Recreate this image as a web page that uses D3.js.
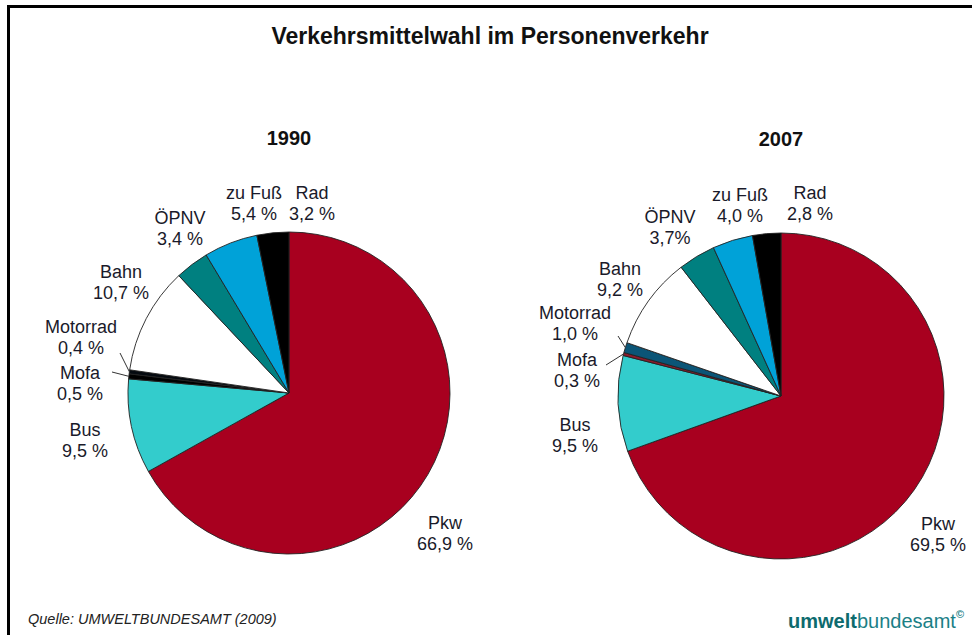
<!DOCTYPE html>
<html>
<head>
<meta charset="utf-8">
<script src="https://cdn.jsdelivr.net/npm/d3@7"></script>
<style>
  html, body { margin: 0; padding: 0; background: #fff; }
  svg { display: block; font-family: "Liberation Sans", Arial, sans-serif; }
</style>
</head>
<body>
<div class="chart"></div>
<script>
// Données
const categories = ['Pkw', 'Bus', 'Mofa', 'Motorrad', 'Bahn', 'ÖPNV', 'zu Fuß', 'Rad']
const years = ['1990', '2007']
const values1990 = [66.9, 9.5, 0.5, 0.4, 10.7, 3.4, 5.4, 3.2]
const values2007 = [69.5, 9.5, 0.3, 1.0, 9.2, 3.7, 4.0, 2.8]
const valueLabels1990 = ['66,9 %', '9,5 %', '0,5 %', '0,4 %', '10,7 %', '3,4 %', '5,4 %', '3,2 %']
const valueLabels2007 = ['69,5 %', '9,5 %', '0,3 %', '1,0 %', '9,2 %', '3,7%', '4,0 %', '2,8 %']

// Couleurs des parts
const colors1990 = ['#a8001f', '#33cccc', '#000000', '#050a10', '#ffffff', '#008080', '#00a2d8', '#000000']
const colors2007 = ['#a8001f', '#33cccc', '#8a1b2c', '#0b5577', '#ffffff', '#008080', '#00a2d8', '#000000']

// Dimensions
const width = 972,
    height = 635

const svg = d3.select('.chart')
    .append('svg')
    .attr('width', width)
    .attr('height', height)

// Cadre noir
svg.append('rect')
    .attr('x', 8.5)
    .attr('y', 6.5)
    .attr('width', width + 20)
    .attr('height', height + 20)
    .attr('fill', 'none')
    .attr('stroke', '#000')
    .attr('stroke-width', 3)

// Titre
svg.append('text')
    .attr('x', 490)
    .attr('y', 44)
    .attr('text-anchor', 'middle')
    .attr('font-size', 23)
    .attr('font-weight', 'bold')
    .attr('fill', '#111')
    .text('Verkehrsmittelwahl im Personenverkehr')

// Position des camemberts et des étiquettes (décalage par rapport au centre)
const pies = [
    {
        year: years[0], values: values1990, labels: valueLabels1990, colors: colors1990,
        cx: 289, cy: 393, r: 161,
        labelPos: [[156, 136], [-204, 43], [-209, -14], [-208, -60], [-168, -115], [-109, -169], [-35, -194], [23, -194]],
        leaders: { 2: [-177, -21], 3: [-169, -40] }
    },
    {
        year: years[1], values: values2007, labels: valueLabels2007, colors: colors2007,
        cx: 781, cy: 396, r: 163,
        labelPos: [[157, 134], [-206, 35], [-204, -30], [-206, -77], [-161, -121], [-111, -173], [-41, -195], [29, -197]],
        leaders: { 2: [-175, -31], 3: [-163, -60] }
    }
]

const pie = d3.pie()
    .sort(null)
    .value(d => d)

pies.forEach(p => {
    const g = svg.append('g')
        .attr('transform', `translate(${p.cx}, ${p.cy})`)

    const arc = d3.arc()
        .innerRadius(0)
        .outerRadius(p.r)

    const arcs = pie(p.values)

    // Parts
    g.selectAll('path')
        .data(arcs)
        .join('path')
        .attr('d', arc)
        .attr('fill', (d, i) => p.colors[i])
        .attr('stroke', '#222')
        .attr('stroke-width', 0.9)

    // Année
    g.append('text')
        .attr('x', 0)
        .attr('y', -p.r - 87)
        .attr('text-anchor', 'middle')
        .attr('font-size', 20)
        .attr('font-weight', 'bold')
        .attr('fill', '#111')
        .text(p.year)

    // Traits de rappel pour les petites parts
    Object.keys(p.leaders).forEach(k => {
        const a = arcs[k]
        const mid = (a.startAngle + a.endAngle) / 2
        const start = p.leaders[k]
        g.append('line')
            .attr('x1', start[0])
            .attr('y1', start[1])
            .attr('x2', Math.sin(mid) * p.r)
            .attr('y2', -Math.cos(mid) * p.r)
            .attr('stroke', '#333')
            .attr('stroke-width', 1)
    })

    // Étiquettes
    const labels = g.selectAll('text.label')
        .data(categories)
        .join('text')
        .attr('class', 'label')
        .attr('text-anchor', 'middle')
        .attr('font-size', 18)
        .attr('fill', '#1a1a2a')

    labels.append('tspan')
        .attr('x', (d, i) => p.labelPos[i][0])
        .attr('y', (d, i) => p.labelPos[i][1])
        .text(d => d)

    labels.append('tspan')
        .attr('x', (d, i) => p.labelPos[i][0])
        .attr('y', (d, i) => p.labelPos[i][1] + 21)
        .text((d, i) => p.labels[i])
})

// Source
svg.append('text')
    .attr('x', 28)
    .attr('y', 624)
    .attr('font-size', 14.5)
    .attr('font-style', 'italic')
    .attr('fill', '#222')
    .text('Quelle: UMWELTBUNDESAMT (2009)')

// Logo
const logo = svg.append('text')
    .attr('x', 788)
    .attr('y', 628)
    .attr('font-size', 20)
    .attr('fill', '#1b8086')
logo.append('tspan')
    .attr('font-weight', 'bold')
    .attr('fill', '#0d6b6e')
    .text('umwelt')
logo.append('tspan')
    .text('bundesamt')
logo.append('tspan')
    .attr('font-size', 11)
    .attr('font-weight', 'bold')
    .attr('dy', -10)
    .text('©')
</script>
</body>
</html>
